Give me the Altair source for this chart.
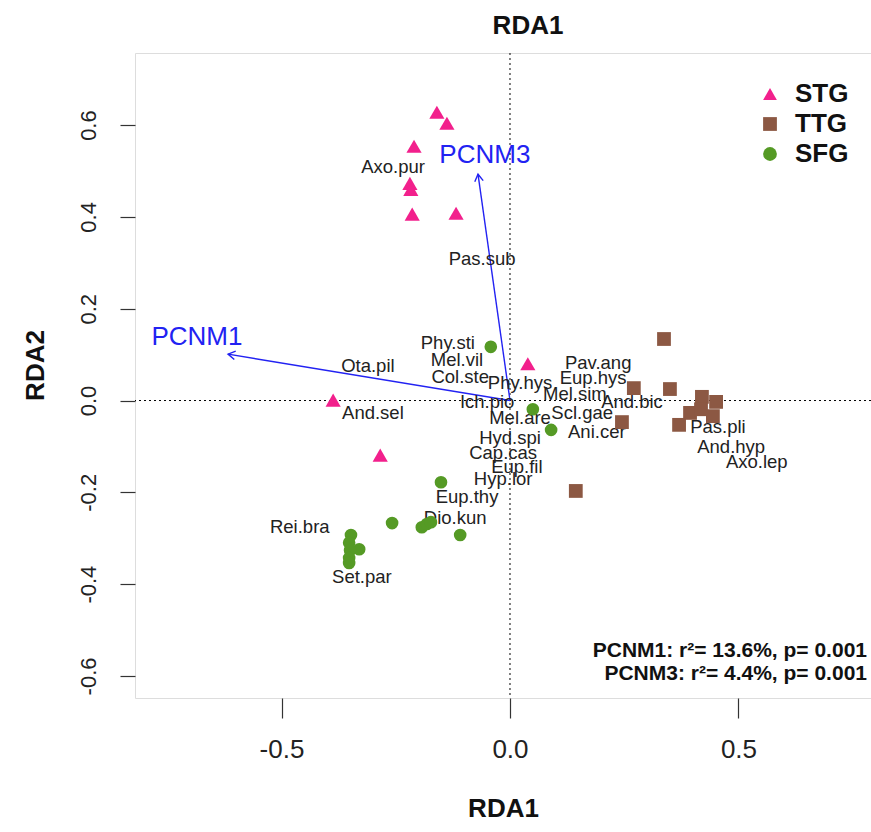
import altair as alt
import pandas as pd
import numpy as np

# ---------------- data ----------------
groups = ["STG", "TTG", "SFG"]
colors = ["#F2208C", "#8C5843", "#559A25"]
shapes = ["triangle-up", "square", "circle"]

stg_x = [-0.160, -0.138, -0.210, -0.219, -0.217, -0.214, -0.118, 0.039, -0.387, -0.284]
stg_y = [0.628, 0.604, 0.554, 0.473, 0.460, 0.406, 0.408, 0.080, 0.001, -0.119]

ttg_x = [0.337, 0.271, 0.350, 0.420, 0.451, 0.394, 0.418, 0.444, 0.245, 0.370, 0.144]
ttg_y = [0.134, 0.027, 0.025, 0.008, -0.003, -0.027, -0.019, -0.034, -0.047, -0.053, -0.197]

sfg_x = [-0.042, 0.050, 0.090, -0.151, -0.258, -0.193, -0.182, -0.173, -0.109,
         -0.348, -0.352, -0.330, -0.350, -0.352, -0.352]
sfg_y = [0.117, -0.019, -0.064, -0.178, -0.267, -0.276, -0.269, -0.265, -0.293,
         -0.293, -0.310, -0.324, -0.326, -0.343, -0.354]

species = ["Axo.pur", "Pas.sub", "Phy.sti", "Mel.vil", "Ota.pil", "Col.ste", "Phy.hys",
           "Ich.pio", "And.sel", "Pav.ang", "Eup.hys", "Mel.sim", "And.bic", "Scl.gae",
           "Ani.cer", "Pas.pli", "And.hyp", "Axo.lep", "Mel.are", "Hyd.spi", "Cap.cas",
           "Eup.fil", "Hyp.lor", "Eup.thy", "Dio.kun", "Rei.bra", "Set.par"]
sp_x = [-0.256, -0.061, -0.136, -0.116, -0.311, -0.109, 0.022,
        -0.050, -0.300, 0.193, 0.182, 0.142, 0.267, 0.158,
        0.190, 0.455, 0.484, 0.540, 0.022, 0.000, -0.015,
        0.015, -0.015, -0.094, -0.120, -0.460, -0.324]
sp_y = [0.508, 0.308, 0.125, 0.088, 0.075, 0.051, 0.038,
        -0.003, -0.027, 0.082, 0.048, 0.014, -0.003, -0.027,
        -0.069, -0.058, -0.101, -0.134, -0.038, -0.082, -0.114,
        -0.145, -0.171, -0.210, -0.256, -0.276, -0.384]

vec_names = ["PCNM1", "PCNM3"]
vec_x = [-0.617, -0.070]
vec_y = [0.101, 0.493]
vec_lab_x = [-0.685, -0.055]
vec_lab_y = [0.138, 0.535]

stats = ["PCNM1: r\u00b2= 13.6%, p= 0.001", "PCNM3: r\u00b2= 4.4%, p= 0.001"]

x_ticks = [-0.5, 0.0, 0.5]
y_ticks = [-0.6, -0.4, -0.2, 0.0, 0.2, 0.4, 0.6]

# ---------------- layout ----------------
W, H = 736, 645
x0, x1 = -0.8206, 0.790
y0, y1 = -0.648, 0.757
FONT = "Liberation Sans"
BLUE = "#2222F2"

sites = pd.concat([
    pd.DataFrame({"x": stg_x, "y": stg_y, "group": "STG"}),
    pd.DataFrame({"x": ttg_x, "y": ttg_y, "group": "TTG"}),
    pd.DataFrame({"x": sfg_x, "y": sfg_y, "group": "SFG"}),
], ignore_index=True)
sites["order"] = sites["group"].map({g: i for i, g in enumerate(groups)})
sites["sz"] = sites["group"].map({"STG": 230, "TTG": 190, "SFG": 160})

sp = pd.DataFrame({"name": species, "x": sp_x, "y": sp_y})

kx = W / (x1 - x0)
ky = H / (y1 - y0)
vec = pd.DataFrame({"name": vec_names, "x": vec_x, "y": vec_y,
                    "ox": [0.0, 0.0], "oy": [0.0, 0.0],
                    "lx": vec_lab_x, "ly": vec_lab_y})
vec["ang"] = (np.degrees(np.arctan2(-vec["y"] * ky, vec["x"] * kx))) % 360

lab_expr = "datum.value < 0 ? '-' + format(-datum.value, '.1f') : format(datum.value, '.1f')"

xs = alt.Scale(domain=[x0, x1], nice=False, zero=False)
ys = alt.Scale(domain=[y0, y1], nice=False, zero=False)

x_axis = alt.Axis(values=x_ticks, labelExpr=lab_expr, title="RDA1", grid=False, domain=False,
                  tickSize=20, tickColor="#333", tickWidth=1.2,
                  labelFont=FONT, labelFontSize=26, labelColor="#222", labelPadding=18,
                  titleFont=FONT, titleFontSize=26, titleFontWeight="bold", titleColor="#111",
                  titleBaseline="middle", titleY=110)
y_axis = alt.Axis(values=y_ticks, labelExpr=lab_expr, title="RDA2", grid=False, domain=False,
                  tickSize=15, tickColor="#333", tickWidth=1.2,
                  labelFont=FONT, labelFontSize=22, labelColor="#222", labelPadding=20,
                  labelAngle=270, labelAlign="center", labelBaseline="bottom",
                  titleFont=FONT, titleFontSize=26, titleFontWeight="bold", titleColor="#111",
                  titleAngle=270, titleBaseline="middle", titleAlign="center",
                  titleX=-100, titleY=312)

base_x = alt.X("x:Q", scale=xs, axis=x_axis)
base_y = alt.Y("y:Q", scale=ys, axis=y_axis)

zero_df = pd.DataFrame({"v": [0.0]})
vline = alt.Chart(zero_df).mark_rule(color="#000", strokeDash=[2, 3], strokeWidth=1).encode(
    x=alt.X("v:Q", scale=xs, axis=x_axis))
hline = alt.Chart(zero_df).mark_rule(color="#000", strokeDash=[2, 3], strokeWidth=1).encode(
    y=alt.Y("v:Q", scale=ys, axis=y_axis))

arrows = alt.Chart(vec).mark_rule(color=BLUE, strokeWidth=1.4).encode(
    x=base_x, y=base_y, x2="ox:Q", y2="oy:Q")
heads = alt.Chart(vec).mark_point(shape="M -1 -0.6 L 0 0 L -1 0.6", filled=False,
                                  color=BLUE, strokeWidth=1.4, size=200, opacity=1).encode(
    x=base_x, y=base_y, angle=alt.Angle("ang:Q", scale=None))
vec_labels = alt.Chart(vec).mark_text(color=BLUE, font=FONT, fontSize=26).encode(
    x=alt.X("lx:Q", scale=xs, axis=x_axis), y=alt.Y("ly:Q", scale=ys, axis=y_axis), text="name:N")

sp_text = alt.Chart(sp).mark_text(font=FONT, fontSize=18.5, color="#222").encode(
    x=base_x, y=base_y, text="name:N")

points = alt.Chart(sites).mark_point(filled=True, opacity=1).encode(
    x=base_x, y=base_y,
    color=alt.Color("group:N", scale=alt.Scale(domain=groups, range=colors),
                    legend=alt.Legend(orient="none", legendX=622, legendY=28, title=None,
                                      labelFont=FONT, labelFontSize=26, labelFontWeight="bold",
                                      labelColor="#111", symbolSize=190, rowPadding=4,
                                      labelOffset=12, padding=0, symbolOpacity=1)),
    shape=alt.Shape("group:N", scale=alt.Scale(domain=groups, range=shapes)),
    size=alt.Size("sz:Q", scale=None, legend=None),
    order="order:Q",
)

stats_df = pd.DataFrame({"t": stats, "py": [598, 621]})
stats_text = alt.Chart(stats_df).mark_text(font=FONT, fontSize=21, fontWeight="bold",
                                           align="right", color="#111").encode(
    x=alt.value(732), y=alt.Y("py:Q", scale=None), text="t:N")

chart = alt.layer(vline, hline, arrows, heads, sp_text, points, vec_labels, stats_text).properties(
    width=W, height=H,
    padding={"left": 135, "top": 53, "right": 0, "bottom": 134},
    autosize=alt.AutoSizeParams(type="none"),
    title=alt.TitleParams("RDA1", font=FONT, fontSize=26, fontWeight="bold", color="#111",
                          anchor="middle", dx=25, offset=14),
).configure_view(stroke="#333", strokeWidth=1.5).configure(background="white")

chart.save("out.html", embed_options={"renderer": "svg", "actions": False})
